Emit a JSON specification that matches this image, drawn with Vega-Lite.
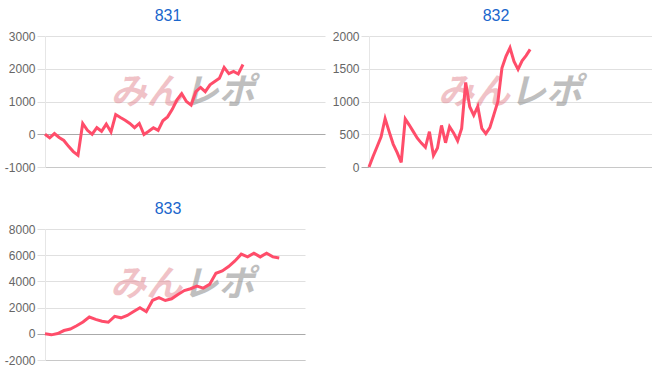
{
  "$schema": "https://vega.github.io/schema/vega-lite/v6.json",
  "padding": {"left": 4, "top": 8, "right": 0, "bottom": 0},
  "background": "white",
  "datasets": {
    "p831": [
      {"i":0,"v":0},{"i":1,"v":-110},{"i":2,"v":20},{"i":3,"v":-100},{"i":4,"v":-190},{"i":5,"v":-370},{"i":6,"v":-530},{"i":7,"v":-640},{"i":8,"v":330},{"i":9,"v":120},
      {"i":10,"v":0},{"i":11,"v":200},{"i":12,"v":90},{"i":13,"v":310},{"i":14,"v":70},{"i":15,"v":600},{"i":16,"v":510},{"i":17,"v":430},{"i":18,"v":330},{"i":19,"v":200},
      {"i":20,"v":330},{"i":21,"v":-10},{"i":22,"v":90},{"i":23,"v":200},{"i":24,"v":120},{"i":25,"v":410},{"i":26,"v":530},{"i":27,"v":760},{"i":28,"v":1050},{"i":29,"v":1240},
      {"i":30,"v":1000},{"i":31,"v":890},{"i":32,"v":1300},{"i":33,"v":1430},{"i":34,"v":1300},{"i":35,"v":1510},{"i":36,"v":1610},{"i":37,"v":1710},{"i":38,"v":2040},{"i":39,"v":1850},
      {"i":40,"v":1920},{"i":41,"v":1840},{"i":42,"v":2130}
    ],
    "p832": [
      {"i":0,"v":0},{"i":1,"v":160},{"i":2,"v":310},{"i":3,"v":460},{"i":4,"v":740},{"i":5,"v":540},{"i":6,"v":350},{"i":7,"v":220},{"i":8,"v":70},{"i":9,"v":735},
      {"i":10,"v":640},{"i":11,"v":540},{"i":12,"v":440},{"i":13,"v":365},{"i":14,"v":300},{"i":15,"v":540},{"i":16,"v":175},{"i":17,"v":290},{"i":18,"v":635},{"i":19,"v":370},
      {"i":20,"v":615},{"i":21,"v":520},{"i":22,"v":400},{"i":23,"v":590},{"i":24,"v":1290},{"i":25,"v":920},{"i":26,"v":790},{"i":27,"v":925},{"i":28,"v":590},{"i":29,"v":510},
      {"i":30,"v":600},{"i":31,"v":800},{"i":32,"v":1000},{"i":33,"v":1510},{"i":34,"v":1690},{"i":35,"v":1820},{"i":36,"v":1610},{"i":37,"v":1490},{"i":38,"v":1620},{"i":39,"v":1700},
      {"i":40,"v":1795}
    ],
    "p833": [
      {"i":0,"v":0},{"i":1,"v":-80},{"i":2,"v":20},{"i":3,"v":250},{"i":4,"v":360},{"i":5,"v":615},{"i":6,"v":900},{"i":7,"v":1280},{"i":8,"v":1100},{"i":9,"v":960},
      {"i":10,"v":880},{"i":11,"v":1330},{"i":12,"v":1220},{"i":13,"v":1400},{"i":14,"v":1700},{"i":15,"v":1990},{"i":16,"v":1690},{"i":17,"v":2560},{"i":18,"v":2760},{"i":19,"v":2540},
      {"i":20,"v":2670},{"i":21,"v":3000},{"i":22,"v":3300},{"i":23,"v":3440},{"i":24,"v":3640},{"i":25,"v":3490},{"i":26,"v":3770},{"i":27,"v":4620},{"i":28,"v":4800},{"i":29,"v":5130},
      {"i":30,"v":5560},{"i":31,"v":6080},{"i":32,"v":5870},{"i":33,"v":6150},{"i":34,"v":5870},{"i":35,"v":6150},{"i":36,"v":5870},{"i":37,"v":5780}
    ]
  },
  "config": {
    "view": {"stroke": null},
    "font": "Liberation Sans",
    "title": {"font": "Liberation Sans", "fontSize": 16, "fontWeight": "normal", "color": "#1a66cc", "offset": 6, "frame": "group", "anchor": "middle"},
    "axisY": {
      "title": null,
      "labelFont": "Liberation Sans",
      "labelFontSize": 12,
      "labelColor": "#666666",
      "labelPadding": 2,
      "labelOverlap": false,
      "labelExpr": "'' + datum.value",
      "tickSize": 8,
      "domainColor": "#e6e6e6",
      "grid": true
    },
    "axisX": {
      "title": null,
      "labels": false,
      "ticks": false,
      "grid": false,
      "domainColor": "#c8c8c8"
    },
    "line": {"color": "#ff4d6a", "strokeWidth": 3}
  },
  "spacing": 28,
  "vconcat": [
    {
      "spacing": 7,
      "hconcat": [
        {
          "title": {"text": "831", "dx": -17},
          "width": 280,
          "height": 131,
          "layer": [
            {
              "data": {"values": [{"logo": "みん"}]},
              "mark": {"type": "text", "align": "right", "baseline": "middle", "font": "Noto Sans CJK JP", "fontSize": 36, "fontWeight": "bold", "fontStyle": "italic", "color": "#e07a85", "opacity": 0.45},
              "encoding": {
                "x": {"datum": 29.2, "type": "quantitative", "scale": {"domain": [0, 59.4], "nice": false, "zero": false}},
                "y": {"datum": 1266, "type": "quantitative", "scale": {"domain": [-1000, 3000], "nice": false},
                  "axis": {"values": [-1000, 0, 1000, 2000, 3000],
                    "gridColor": {"condition": {"test": "datum.value === 0", "value": "#aaaaaa"}, "value": "#e0e0e0"},
                    "tickColor": {"condition": {"test": "datum.value === 0", "value": "#aaaaaa"}, "value": "#e0e0e0"}}},
                "text": {"field": "logo"}}
            },
            {
              "data": {"values": [{"logo": "レポ"}]},
              "mark": {"type": "text", "align": "left", "baseline": "middle", "font": "Noto Sans CJK JP", "fontSize": 36, "fontWeight": "bold", "fontStyle": "italic", "color": "#8c8c8c", "opacity": 0.55},
              "encoding": {
                "x": {"datum": 29.2, "type": "quantitative", "scale": {"domain": [0, 59.4], "nice": false, "zero": false}},
                "y": {"datum": 1266, "type": "quantitative", "scale": {"domain": [-1000, 3000], "nice": false},
                  "axis": {"values": [-1000, 0, 1000, 2000, 3000],
                    "gridColor": {"condition": {"test": "datum.value === 0", "value": "#aaaaaa"}, "value": "#e0e0e0"},
                    "tickColor": {"condition": {"test": "datum.value === 0", "value": "#aaaaaa"}, "value": "#e0e0e0"}}},
                "text": {"field": "logo"}}
            },
            {
              "data": {"name": "p831"},
              "mark": {"type": "line"},
              "encoding": {
                "x": {"field": "i", "type": "quantitative", "scale": {"domain": [0, 59.4], "nice": false, "zero": false}},
                "y": {"field": "v", "type": "quantitative", "scale": {"domain": [-1000, 3000], "nice": false},
                  "axis": {"values": [-1000, 0, 1000, 2000, 3000],
                    "gridColor": {"condition": {"test": "datum.value === 0", "value": "#aaaaaa"}, "value": "#e0e0e0"},
                    "tickColor": {"condition": {"test": "datum.value === 0", "value": "#aaaaaa"}, "value": "#e0e0e0"}}}
              }
            }
          ]
        },
        {
          "title": {"text": "832", "dx": -15},
          "width": 284,
          "height": 131,
          "layer": [
            {
              "data": {"values": [{"logo": "みん"}]},
              "mark": {"type": "text", "align": "right", "baseline": "middle", "font": "Noto Sans CJK JP", "fontSize": 36, "fontWeight": "bold", "fontStyle": "italic", "color": "#e07a85", "opacity": 0.45},
              "encoding": {
                "x": {"datum": 35, "type": "quantitative", "scale": {"domain": [0, 70.5], "nice": false, "zero": false}},
                "y": {"datum": 1133, "type": "quantitative", "scale": {"domain": [0, 2000], "nice": false},
                  "axis": {"values": [0, 500, 1000, 1500, 2000],
                    "gridColor": {"condition": {"test": "datum.value === 0", "value": "#aaaaaa"}, "value": "#e0e0e0"},
                    "tickColor": {"condition": {"test": "datum.value === 0", "value": "#aaaaaa"}, "value": "#e0e0e0"}}},
                "text": {"field": "logo"}}
            },
            {
              "data": {"values": [{"logo": "レポ"}]},
              "mark": {"type": "text", "align": "left", "baseline": "middle", "font": "Noto Sans CJK JP", "fontSize": 36, "fontWeight": "bold", "fontStyle": "italic", "color": "#8c8c8c", "opacity": 0.55},
              "encoding": {
                "x": {"datum": 35, "type": "quantitative", "scale": {"domain": [0, 70.5], "nice": false, "zero": false}},
                "y": {"datum": 1133, "type": "quantitative", "scale": {"domain": [0, 2000], "nice": false},
                  "axis": {"values": [0, 500, 1000, 1500, 2000],
                    "gridColor": {"condition": {"test": "datum.value === 0", "value": "#aaaaaa"}, "value": "#e0e0e0"},
                    "tickColor": {"condition": {"test": "datum.value === 0", "value": "#aaaaaa"}, "value": "#e0e0e0"}}},
                "text": {"field": "logo"}}
            },
            {
              "data": {"name": "p832"},
              "mark": {"type": "line"},
              "encoding": {
                "x": {"field": "i", "type": "quantitative", "scale": {"domain": [0, 70.5], "nice": false, "zero": false}},
                "y": {"field": "v", "type": "quantitative", "scale": {"domain": [0, 2000], "nice": false},
                  "axis": {"values": [0, 500, 1000, 1500, 2000],
                    "gridColor": {"condition": {"test": "datum.value === 0", "value": "#aaaaaa"}, "value": "#e0e0e0"},
                    "tickColor": {"condition": {"test": "datum.value === 0", "value": "#aaaaaa"}, "value": "#e0e0e0"}}}
              }
            }
          ]
        }
      ]
    },
    {
      "title": {"text": "833", "dx": -7},
      "width": 260,
      "height": 131,
      "layer": [
        {
          "data": {"values": [{"logo": "みん"}]},
          "mark": {"type": "text", "align": "right", "baseline": "middle", "font": "Noto Sans CJK JP", "fontSize": 36, "fontWeight": "bold", "fontStyle": "italic", "color": "#e07a85", "opacity": 0.45},
          "encoding": {
            "x": {"datum": 21.7, "type": "quantitative", "scale": {"domain": [0, 41.07], "nice": false, "zero": false}},
            "y": {"datum": 3690, "type": "quantitative", "scale": {"domain": [-2000, 8000], "nice": false},
              "axis": {"values": [-2000, 0, 2000, 4000, 6000, 8000],
                "gridColor": {"condition": {"test": "datum.value === 0", "value": "#aaaaaa"}, "value": "#e0e0e0"},
                "tickColor": {"condition": {"test": "datum.value === 0", "value": "#aaaaaa"}, "value": "#e0e0e0"}}},
            "text": {"field": "logo"}}
        },
        {
          "data": {"values": [{"logo": "レポ"}]},
          "mark": {"type": "text", "align": "left", "baseline": "middle", "font": "Noto Sans CJK JP", "fontSize": 36, "fontWeight": "bold", "fontStyle": "italic", "color": "#8c8c8c", "opacity": 0.55},
          "encoding": {
            "x": {"datum": 21.7, "type": "quantitative", "scale": {"domain": [0, 41.07], "nice": false, "zero": false}},
            "y": {"datum": 3690, "type": "quantitative", "scale": {"domain": [-2000, 8000], "nice": false},
              "axis": {"values": [-2000, 0, 2000, 4000, 6000, 8000],
                "gridColor": {"condition": {"test": "datum.value === 0", "value": "#aaaaaa"}, "value": "#e0e0e0"},
                "tickColor": {"condition": {"test": "datum.value === 0", "value": "#aaaaaa"}, "value": "#e0e0e0"}}},
            "text": {"field": "logo"}}
        },
        {
          "data": {"name": "p833"},
          "mark": {"type": "line"},
          "encoding": {
            "x": {"field": "i", "type": "quantitative", "scale": {"domain": [0, 41.07], "nice": false, "zero": false}},
            "y": {"field": "v", "type": "quantitative", "scale": {"domain": [-2000, 8000], "nice": false},
              "axis": {"values": [-2000, 0, 2000, 4000, 6000, 8000],
                "gridColor": {"condition": {"test": "datum.value === 0", "value": "#aaaaaa"}, "value": "#e0e0e0"},
                "tickColor": {"condition": {"test": "datum.value === 0", "value": "#aaaaaa"}, "value": "#e0e0e0"}}}
          }
        }
      ]
    }
  ]
}
